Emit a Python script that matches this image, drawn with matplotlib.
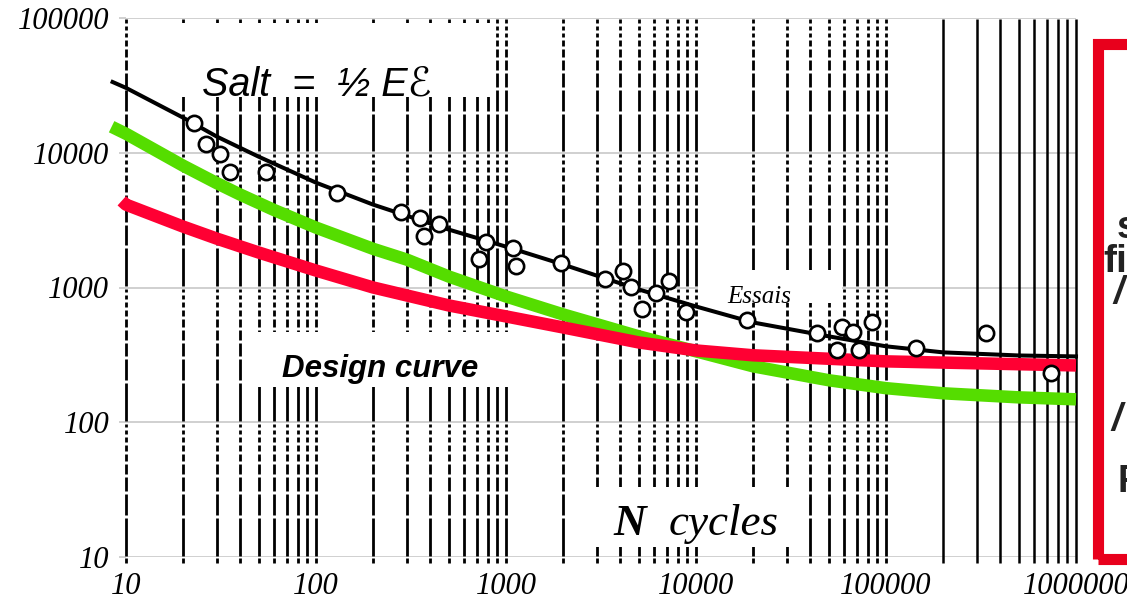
import numpy as np
import matplotlib
matplotlib.use('Agg')
import matplotlib.pyplot as plt
from matplotlib.patches import Rectangle
from matplotlib.ticker import NullLocator

# ---------------- data ----------------
essais_x = [8.5, 10, 20, 30, 50, 100, 200, 500, 1000, 2000, 5000, 1e4, 2e4, 5e4, 1e5, 2e5, 5e5, 1e6]
essais_y = [33500, 30300, 18200, 13200, 9340, 6000, 4120, 2690, 2010, 1480, 967, 723, 550, 434, 366, 330, 313, 308]

green_x = [8.4, 10, 20, 30, 40, 60, 100, 200, 300, 500, 1000, 2000, 5000, 1e4, 2e4, 5e4, 1e5, 2e5, 5e5, 1e6]
green_y = [15600, 13830, 8010, 5955, 4886, 3764, 2783, 1935, 1612, 1206, 858, 631, 434, 336, 260, 205, 179, 164, 153, 148]

red_x = [9.5, 10, 20, 30, 50, 100, 200, 500, 1000, 2000, 5000, 1e4, 2e4, 1e5, 1e6]
red_y = [4400, 4120, 2830, 2307, 1817, 1336, 1000, 736, 610, 505, 391, 341, 314, 283, 264]

pts_x = [22.8, 26.4, 31.2, 35.3, 54.6, 129, 280, 353, 370, 444, 721, 785, 1088, 1129,
         1948, 3320, 4130, 4550, 5195, 6160, 7210, 8860, 18550, 43300, 55200, 58700,
         67000, 72100, 84400, 143800, 335900, 738600]
pts_y = [16680, 11660, 9830, 7230, 7230, 5050, 3660, 3300, 2430, 2980, 1640, 2190, 1980, 1455,
         1530, 1166, 1336, 1017, 687, 918, 1127, 653, 570, 456, 341, 505, 464, 341, 551, 353,
         456, 231]

xticks = [10, 100, 1000, 10000, 100000, 1000000]
xtick_labels = ['10', '100', '1000', '10000', '100000', '1000000']
yticks = [10, 100, 1000, 10000, 100000]
ytick_labels = ['10', '100', '1000', '10000', '100000']

# ---------------- figure ----------------
W, H = 1127, 600
fig = plt.figure(figsize=(W / 100, H / 100), dpi=100)
ax = fig.add_axes([126 / W, 43 / H, 950 / W, 539 / H])

def fx(px):
    return px / W

def fy(py):
    return 1 - py / H

ax.set_xscale('log')
ax.set_yscale('log')
ax.set_xlim(10, 1e6)
ax.set_ylim(10, 1e5)

for s in ax.spines.values():
    s.set_visible(False)

ax.set_axisbelow(True)
ax.yaxis.grid(True, color='#c8c8c8', lw=1.2)
ax.xaxis.grid(False)

serif = dict(family='Liberation Serif', style='italic', fontsize=22)
ax.set_xticks(xticks)
ax.set_xticklabels(xtick_labels, **serif)
ax.set_yticks(yticks)
ax.set_yticklabels(ytick_labels, **serif)
ax.xaxis.set_minor_locator(NullLocator())
ax.yaxis.set_minor_locator(NullLocator())
ax.tick_params(axis='x', length=0, pad=11)
ax.tick_params(axis='y', length=5, width=1.2, color='#c8c8c8', pad=7)

# vertical broken gridlines (gaps at each y minor value)
edges = sorted(set([n * 10.0 ** k for k in range(1, 5) for n in range(1, 11)]))
g = 0.011
ymins = [10 ** (1 - 6 / 135)]
ymaxs = [10 * 10 ** (-g)]
for a, b in zip(edges[:-1], edges[1:]):
    ymins.append(a * 10 ** g)
    ymaxs.append(b * 10 ** (-g))
ymins = np.array(ymins)
ymaxs = np.array(ymaxs)

xdash = [n * 10.0 ** k for k in range(1, 5) for n in range(1, 10)] + [1e5]
for xv in xdash:
    ax.vlines(np.full(len(ymins), xv), ymins, ymaxs, colors='black', lw=2.0,
              zorder=1, clip_on=False, capstyle='butt')
xsolid = [n * 1e5 for n in range(2, 11)]
ax.vlines(xsolid, 10 ** (1 - 6 / 135), 1e5 * 10 ** (-g), colors='black', lw=1.8,
          zorder=1, clip_on=False)

# white label boxes masking the grid
boxes = [(160, 23, 492, 97), (250, 332, 510, 387), (698, 270, 842, 303), (590, 487, 800, 547)]
for x0, y0, x1, y1 in boxes:
    r = Rectangle((fx(x0), fy(y1)), (x1 - x0) / W, (y1 - y0) / H, transform=fig.transFigure,
                  facecolor='white', edgecolor='none', zorder=1.5, clip_on=False)
    ax.add_patch(r)

# curves
ax.plot(green_x, green_y, color='#55DD00', lw=9, solid_capstyle='butt',
        solid_joinstyle='round', zorder=2, clip_on=False)
ax.plot(red_x, red_y, color='#FF0033', lw=9, solid_capstyle='butt',
        solid_joinstyle='round', zorder=2.2, clip_on=False)
ax.plot(essais_x, essais_y, color='black', lw=2.9, zorder=3, clip_on=False)
ax.plot(pts_x, pts_y, 'o', ms=11, mfc='white', mec='black', mew=1.9, zorder=4, clip_on=False)

# texts
fig.text(fx(202), fy(95), 'Salt  =  ½ Eℰ', fontsize=28.5, style='italic',
         family=['Liberation Sans', 'DejaVu Sans'], va='baseline', ha='left')
fig.text(fx(282), fy(377), 'Design curve', fontsize=22.5, style='italic', weight='bold',
         family='Liberation Sans', va='baseline', ha='left')
fig.text(fx(727), fy(303), 'Essais', fontsize=18, style='italic',
         family='Liberation Serif', va='baseline', ha='left')
fig.text(fx(613), fy(535), 'N', fontsize=32.5, style='italic', weight='bold',
         family='Liberation Serif', va='baseline', ha='left')
fig.text(fx(669), fy(535), 'cycles', fontsize=32.5, style='italic',
         family='Liberation Serif', va='baseline', ha='left')

# red frame on the right
frame = Rectangle((fx(1097.5), fy(559)), (1250 - 1097.5) / W, (559 - 43.5) / H,
                  transform=fig.transFigure, facecolor='none', edgecolor='#E8001C',
                  lw=8, zorder=5, clip_on=False)
fig.add_artist(frame)

side = dict(family='Liberation Sans', weight='bold', color='#222222', va='baseline', ha='left')
fig.text(fx(1117), fy(238), 's', fontsize=27, **side)
fig.text(fx(1103), fy(272), 'fi', fontsize=28, **side)
fig.text(fx(1113), fy(303), '/', fontsize=27, style='italic', **side)
fig.text(fx(1111), fy(430), '/', fontsize=27, style='italic', **side)
fig.text(fx(1118), fy(492), 'R', fontsize=27, **side)

fig.savefig('out.png', dpi=100, facecolor='white')
